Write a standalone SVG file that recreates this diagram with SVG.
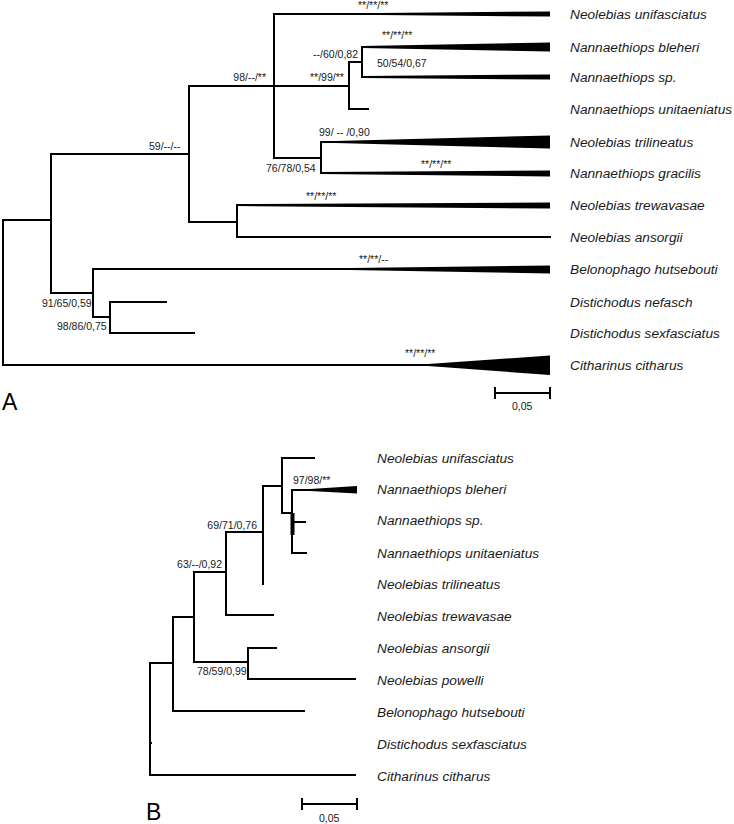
<svg xmlns="http://www.w3.org/2000/svg" width="734" height="824" viewBox="0 0 734 824">
<style>
.br{fill:none;stroke:#000;stroke-width:2;stroke-linecap:square}
.wd{fill:#000;stroke:none}
.tx{font-family:"Liberation Sans",Arial,sans-serif;font-style:italic;font-size:13.7px;fill:#1a1a1a}
.sp{font-family:"Liberation Sans",Arial,sans-serif;font-size:10.5px;fill:#1a1a1a}
.pl{font-family:"Liberation Sans",Arial,sans-serif;font-size:23px;fill:#000}
</style>
<rect width="734" height="824" fill="#fff"/>
<g id="connectors">
<g id="treeA">
<path class="br" d="M3,220V365M3,220H51M51,154V293M51,154H189M51,293H93M189,86V222M189,86H274M189,222H237M274,14V158M274,86H349M274,158H321M349,62V109M349,62H362M349,109H368M362,47V77M321,142V173M237,205V237M237,237H550M93,269V317M93,317H110M110,302V333M110,302H166M110,333H194M3,365H430"/>
<polygon class="wd" points="274,13 380,13 550,11.5 550,16.5 380,15 274,15"/>
<polygon class="wd" points="362,46 550,42.5 550,51.5 362,48"/>
<polygon class="wd" points="362,76 550,74.5 550,79.5 362,78"/>
<polygon class="wd" points="321,141 335,141 550,135.5 550,148.5 335,143 321,143"/>
<polygon class="wd" points="321,172 550,170.5 550,176.5 321,174"/>
<polygon class="wd" points="237,204 550,202.5 550,208.5 237,206"/>
<polygon class="wd" points="93,268 350,268 550,265.5 550,273.5 350,270 93,270"/>
<polygon class="wd" points="428,364 550,355.5 550,375 428,366"/>
</g>
<g id="treeB">
<path class="br" d="M150,663V775M150,663H173M150,775H355M150,743H151M173,617V711M173,617H194M173,711H304M194,572V662M194,572H226M194,662H248M226,532V615M226,532H263M226,615H273M263,486V584M263,486H282M282,458V513M282,458H314M282,513H292M292,490V553M292,490H310M292,522H305M292,553H306M248,648V679M248,648H276M248,679H355"/>
<rect class="wd" x="290.5" y="513" width="4" height="22"/>
<polygon class="wd" points="310,489 357,486 357,493.5 310,491"/>
</g>
<g id="scalebars">
<path class="br" d="M495,393H550M495,388V398M550,388V398M302,804H357M302,799V809M357,799V809"/>
</g>
</g>
<g id="labelsA">
<text class="tx" x="570" y="19">Neolebias unifasciatus</text>
<text class="tx" x="570" y="52">Nannaethiops bleheri</text>
<text class="tx" x="570" y="82">Nannaethiops sp.</text>
<text class="tx" x="570" y="114">Nannaethiops unitaeniatus</text>
<text class="tx" x="570" y="147">Neolebias trilineatus</text>
<text class="tx" x="570" y="178">Nannaethiops gracilis</text>
<text class="tx" x="570" y="210">Neolebias trewavasae</text>
<text class="tx" x="570" y="242">Neolebias ansorgii</text>
<text class="tx" x="570" y="274">Belonophago hutsebouti</text>
<text class="tx" x="570" y="307">Distichodus nefasch</text>
<text class="tx" x="570" y="338">Distichodus sexfasciatus</text>
<text class="tx" x="570" y="370">Citharinus citharus</text>
</g>
<g id="supportA">
<text class="sp" x="358" y="9">**/**/**</text>
<text class="sp" x="358" y="58" text-anchor="end">--/60/0,82</text>
<text class="sp" x="382" y="39">**/**/**</text>
<text class="sp" x="377" y="67">50/54/0,67</text>
<text class="sp" x="266" y="81" text-anchor="end">98/--/**</text>
<text class="sp" x="310" y="81">**/99/**</text>
<text class="sp" x="319" y="136">99/ -- /0,90</text>
<text class="sp" x="149" y="150">59/--/--</text>
<text class="sp" x="266" y="172">76/78/0,54</text>
<text class="sp" x="421" y="168">**/**/**</text>
<text class="sp" x="306" y="200">**/**/**</text>
<text class="sp" x="359" y="263">**/**/--</text>
<text class="sp" x="42" y="307">91/65/0,59</text>
<text class="sp" x="57" y="330">98/86/0,75</text>
<text class="sp" x="405" y="357">**/**/**</text>
<text class="sp" x="512" y="410">0,05</text>
<text class="pl" x="2" y="410">A</text>
</g>
<g id="labelsB">
<text class="tx" x="377" y="463">Neolebias unifasciatus</text>
<text class="tx" x="377" y="494">Nannaethiops bleheri</text>
<text class="tx" x="377" y="525">Nannaethiops sp.</text>
<text class="tx" x="377" y="558">Nannaethiops unitaeniatus</text>
<text class="tx" x="377" y="589">Neolebias trilineatus</text>
<text class="tx" x="377" y="621">Neolebias trewavasae</text>
<text class="tx" x="377" y="653">Neolebias ansorgii</text>
<text class="tx" x="377" y="685">Neolebias powelli</text>
<text class="tx" x="377" y="717">Belonophago hutsebouti</text>
<text class="tx" x="377" y="749">Distichodus sexfasciatus</text>
<text class="tx" x="377" y="781">Citharinus citharus</text>
</g>
<g id="supportB">
<text class="sp" x="293" y="484">97/98/**</text>
<text class="sp" x="257" y="529" text-anchor="end">69/71/0,76</text>
<text class="sp" x="222" y="568" text-anchor="end">63/--/0,92</text>
<text class="sp" x="197" y="675">78/59/0,99</text>
<text class="sp" x="319" y="822">0,05</text>
<text class="pl" x="146" y="820">B</text>
</g>
</svg>
